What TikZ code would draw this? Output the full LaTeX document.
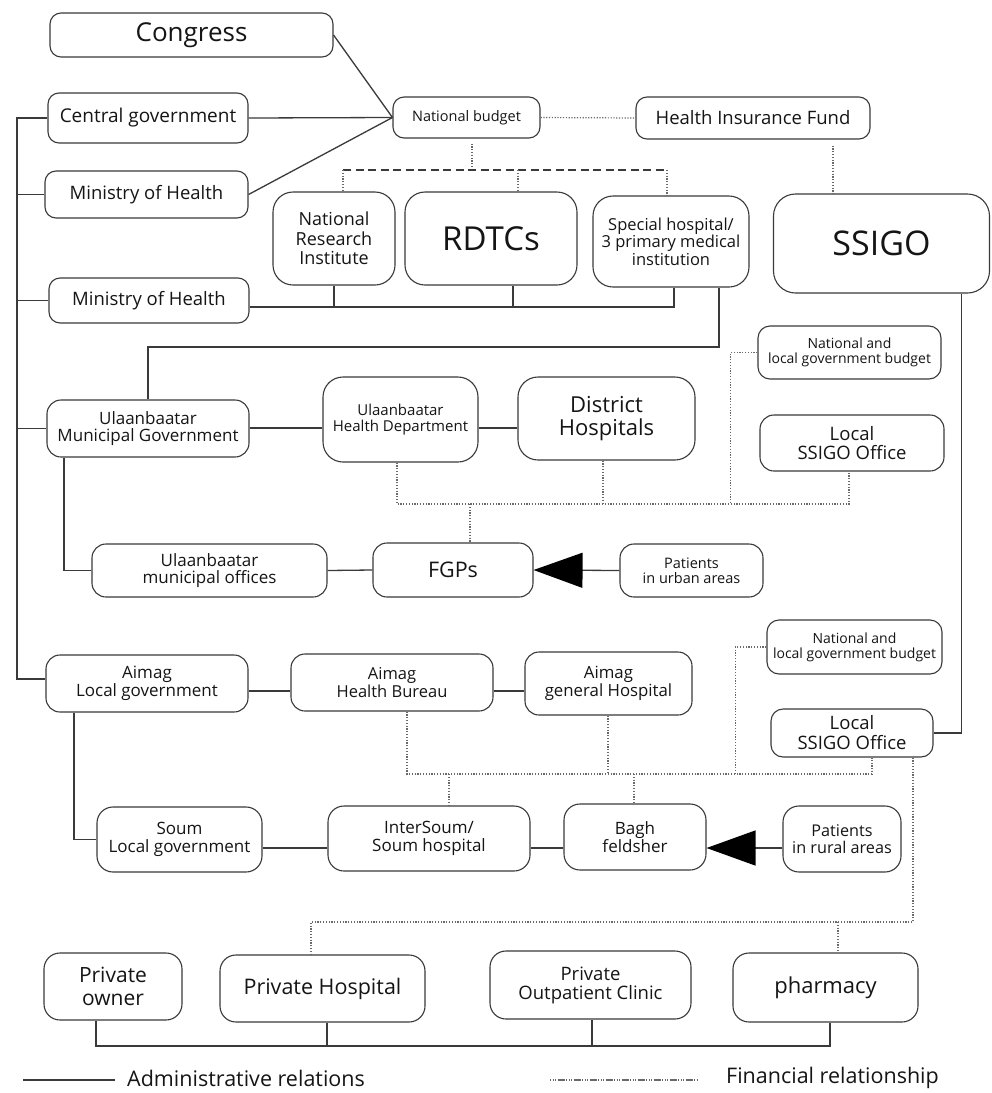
\documentclass[tikz,border=0pt]{standalone}
\usepackage{fontspec}
\setmainfont{Open Sans}
\usetikzlibrary{arrows.meta,calc}
\definecolor{bordc}{HTML}{3A3A3A}
\definecolor{admc}{HTML}{3A3A3A}
\definecolor{finc}{HTML}{6A6A6A}
\definecolor{txtc}{HTML}{151515}
\newcommand\fs[2]{\fontsize{#1}{#2}\selectfont}
\begin{document}
\begin{tikzpicture}[x=1pt,y=-1pt,
 box/.style={draw=bordc,line width=1.1pt,rounded corners=11pt,inner sep=0pt,align=center,text=txtc},
 adm/.style={draw=admc,line width=1.3pt},
 fin/.style={draw=finc,line width=1.2pt,dash pattern=on 1.2pt off 1.6pt},
 dsh/.style={draw=bordc,line width=1.6pt,dash pattern=on 8pt off 4.5pt},
 tri/.style={adm,-{Triangle[length=49pt,width=35pt,color=black,fill=black]}},
 legtext/.style={anchor=west,text=txtc,font=\fs{21.5}{26},inner sep=0pt}
]
\useasboundingbox (0,0) rectangle (992,1093);
\fill[white] (0,0) rectangle (992,1093);

% ---------- top level ----------
\node[box, minimum width=283pt, minimum height=44pt, font=\fs{26}{30}] (cong) at (191.5,35) {Congress};
\node[box, minimum width=200pt, minimum height=50pt, font=\fs{19}{22}] (cgov) at (148,118) {Central government};
\node[box, minimum width=203pt, minimum height=47pt, font=\fs{18.5}{22}] (moh1) at (146.5,194.5) {Ministry of Health};
\node[box, minimum width=200pt, minimum height=45pt, font=\fs{18.5}{22}] (moh2) at (149,300.5) {Ministry of Health};
\node[box, minimum width=147pt, minimum height=41pt, font=\fs{14.5}{17}] (nb) at (466.5,117.5) {National budget};
\node[box, minimum width=234pt, minimum height=42pt, font=\fs{18.5}{22}] (hif) at (753,118) {Health Insurance Fund};
\node[box, rounded corners=20pt, minimum width=122pt, minimum height=93pt, font=\fs{18}{19.5}] (nri) at (334,238.5) {National\\Research\\Institute};
\node[box, rounded corners=20pt, minimum width=172pt, minimum height=93pt, font=\fs{33}{36}] (rdtc) at (491,238.5) {RDTCs};
\node[box, rounded corners=20pt, minimum width=156pt, minimum height=91pt, font=\fs{16.5}{17.5}] (spec) at (671,241.5) {Special hospital/\\3 primary medical\\institution};
\node[box, rounded corners=22pt, minimum width=216pt, minimum height=99pt, font=\fs{34}{38}] (ssigo) at (881.5,243.5) {SSIGO};

% ---------- Ulaanbaatar ----------
\node[box, rounded corners=14pt, minimum width=202pt, minimum height=57pt, font=\fs{17}{17.5}] (ubmg) at (148,428.5) {Ulaanbaatar\\Municipal Government};
\node[box, rounded corners=20pt, minimum width=155pt, minimum height=85pt, font=\fs{15}{16}] (ubhd) at (400.5,419.5) {Ulaanbaatar\\Health Department};
\node[box, rounded corners=20pt, minimum width=177pt, minimum height=83pt, font=\fs{22}{23}] (dh) at (606.5,418.5) {District\\Hospitals};
\node[box, rounded corners=12pt, minimum width=183pt, minimum height=53pt, font=\fs{14}{15}] (nlb1) at (849.5,352.5) {National and\\local government budget};
\node[box, rounded corners=14pt, minimum width=184pt, minimum height=56pt, font=\fs{18.5}{19}] (lso1) at (852,443) {Local\\SSIGO Office};
\node[box, rounded corners=14pt, minimum width=235pt, minimum height=53pt, font=\fs{17}{17.5}] (ubmo) at (209.5,570.5) {Ulaanbaatar\\municipal offices};
\node[box, rounded corners=14pt, minimum width=160pt, minimum height=54pt, font=\fs{21.5}{24}] (fgp) at (453,570) {FGPs};
\node[box, rounded corners=14pt, minimum width=143pt, minimum height=53pt, font=\fs{14.5}{15}] (pu) at (691.5,570.5) {Patients\\in urban areas};

% ---------- Aimag ----------
\node[box, rounded corners=14pt, minimum width=202pt, minimum height=57pt, font=\fs{17}{17.5}] (alg) at (147,683.5) {Aimag\\Local government};
\node[box, rounded corners=14pt, minimum width=202pt, minimum height=57pt, font=\fs{16.5}{17.5}] (ahb) at (392,682.5) {Aimag\\Health Bureau};
\node[box, rounded corners=14pt, minimum width=167pt, minimum height=63pt, font=\fs{16.8}{17.5}] (agh) at (608.5,683.5) {Aimag\\general Hospital};
\node[box, rounded corners=12pt, minimum width=175pt, minimum height=54pt, font=\fs{14}{15}] (nlb2) at (854.5,647) {National and\\local government budget};
\node[box, rounded corners=12pt, minimum width=162pt, minimum height=48pt, font=\fs{18.5}{20}] (lso2) at (852,733) {Local\\SSIGO Office};
\node[box, rounded corners=16pt, minimum width=165pt, minimum height=65pt, font=\fs{17}{17.5}] (slg) at (179.5,839.5) {Soum\\Local government};
\node[box, rounded corners=16pt, minimum width=202pt, minimum height=65pt, font=\fs{17}{17.5}] (isou) at (429,838.5) {InterSoum/\\Soum hospital};
\node[box, rounded corners=16pt, minimum width=142pt, minimum height=66pt, font=\fs{17}{17.5}] (bagh) at (635,837) {Bagh\\feldsher};
\node[box, rounded corners=16pt, minimum width=118pt, minimum height=66pt, font=\fs{16.2}{17.5}] (pr) at (842,839) {Patients\\in rural areas};

% ---------- private ----------
\node[box, rounded corners=16pt, minimum width=138pt, minimum height=67pt, font=\fs{21}{23}] (po) at (113,986.5) {Private\\owner};
\node[box, rounded corners=16pt, minimum width=205pt, minimum height=67pt, font=\fs{21.5}{23}] (ph) at (322.5,988.5) {Private Hospital};
\node[box, rounded corners=16pt, minimum width=201pt, minimum height=68pt, font=\fs{18.5}{19}] (poc) at (590.5,985) {Private\\Outpatient Clinic};
\node[box, rounded corners=16pt, minimum width=185pt, minimum height=69pt, font=\fs{22}{24}] (phar) at (825.5,987.5) {pharmacy};

% ---------- administrative relations ----------
\coordinate (lbT) at (17,118);
\coordinate (lbB) at (17,679);
\draw[adm] (cgov.west) -- (lbT) -- (lbB) -- (lbB -| alg.west);
\draw[adm] (lbT |- moh1.west) -- (moh1.west);
\draw[adm] (lbT |- moh2.west) -- (moh2.west);
\draw[adm] (lbT |- ubmg.west) -- (ubmg.west);

\draw[adm] (cong.east) -- (nb.west);
\draw[adm] (cgov.east) -- (nb.west);
\draw[adm] (moh1.east) -- (nb.west);

\coordinate (b2) at (0,307);
\coordinate (sp1) at ([xshift=3pt]spec.south);
\coordinate (rd1) at ([xshift=22pt]rdtc.south);
\draw[adm] (moh2.east |- b2) -- (sp1 |- b2) -- (sp1);
\draw[adm] (nri.south) -- (nri.south |- b2);
\draw[adm] (rd1) -- (rd1 |- b2);

\coordinate (sp2) at ([xshift=48pt]spec.south);
\coordinate (c347) at (0,347);
\draw[adm] (sp2) -- (sp2 |- c347) -- (ubmg.north |- c347) -- (ubmg.north);

\coordinate (c428) at (0,428);
\draw[adm] (ubmg.east |- c428) -- (ubhd.west |- c428);
\draw[adm] (ubhd.east |- c428) -- (dh.west |- c428);
\coordinate (um1) at ([xshift=-84pt]ubmg.south);
\draw[adm] (um1) |- (ubmo.west);
\draw[adm] (ubmo.east) -- (fgp.west);
\draw[tri] (pu.west) -- (fgp.east);

\coordinate (c691) at (0,691);
\draw[adm] (alg.east |- c691) -- (ahb.west |- c691);
\draw[adm] (ahb.east |- c691) -- (agh.west |- c691);
\coordinate (al1) at ([xshift=-73pt]alg.south);
\draw[adm] (al1) |- (slg.west);
\coordinate (c848) at (0,848);
\draw[adm] (slg.east |- c848) -- (isou.west |- c848);
\draw[adm] (isou.east |- c848) -- (bagh.west |- c848);
\draw[tri] (pr.west |- c848) -- (bagh.east |- c848);

\coordinate (ss1) at ([xshift=80pt]ssigo.south);
\draw[adm] (ss1) |- (lso2.east);

\coordinate (c1046) at (0,1046);
\coordinate (po1) at ([xshift=-17pt]po.south);
\coordinate (ph1) at ([xshift=4.5pt]ph.south);
\coordinate (poc1) at ([xshift=1.5pt]poc.south);
\coordinate (phr1) at ([xshift=4.5pt]phar.south);
\draw[adm] (po1) |- (phr1 |- c1046) -- (phr1);
\draw[adm] (ph1) -- (ph1 |- c1046);
\draw[adm] (poc1) -- (poc1 |- c1046);

% ---------- financial relationships ----------
\draw[fin] (nb.east) -- (hif.west);
\coordinate (nb1) at ([xshift=5.5pt,yshift=-5pt]nb.south);
\coordinate (c170) at (0,170);
\draw[fin] (nb1) -- (nb1 |- c170);
\coordinate (n1) at ([xshift=9pt]nri.north);
\coordinate (r1) at ([xshift=27pt]rdtc.north);
\coordinate (s1) at ([xshift=-4pt]spec.north);
\draw[dsh] (n1 |- c170) -- (s1 |- c170);
\draw[fin] (n1 |- c170) -- (n1);
\draw[fin] (r1 |- c170) -- (r1);
\draw[fin] (s1 |- c170) -- (s1);
\coordinate (h1) at ([xshift=80pt,yshift=-6pt]hif.south);
\draw[fin] (h1) -- (h1 |- ssigo.north);

\coordinate (c504) at (0,504);
\coordinate (u1) at ([xshift=-3.5pt]ubhd.south);
\coordinate (u2) at ([xshift=-3.5pt]dh.south);
\coordinate (u3) at ([xshift=-3pt]lso1.south);
\coordinate (u4) at ([xshift=-27pt]nlb1.west);
\coordinate (u5) at ([xshift=17pt]fgp.north);
\draw[fin] (u1) -- (u1 |- c504) -- (u3 |- c504) -- (u3);
\draw[fin] (u2) -- (u2 |- c504);
\draw[fin] (nlb1.west) -- (u4) -- (u4 |- c504);
\draw[fin] (u5 |- c504) -- (u5);

\coordinate (c774) at (0,774);
\coordinate (q1) at ([xshift=15pt]ahb.south);
\coordinate (q2) at ([xshift=-0.5pt]agh.south);
\coordinate (q3) at ([xshift=20pt]lso2.south);
\coordinate (q4) at ([xshift=-31pt]nlb2.west);
\coordinate (q5) at ([xshift=20pt]isou.north);
\coordinate (q6) at ([xshift=-1pt]bagh.north);
\draw[fin] (q1) -- (q1 |- c774) -- (q3 |- c774) -- (q3);
\draw[fin] (q2) -- (q2 |- c774);
\draw[fin] (nlb2.west) -- (q4) -- (q4 |- c774);
\draw[fin] (q5 |- c774) -- (q5);
\draw[fin] (q6 |- c774) -- (q6);

\coordinate (c922) at (0,922);
\coordinate (p1) at ([xshift=61pt]lso2.south);
\coordinate (p2) at ([xshift=-11.5pt]ph.north);
\coordinate (p3) at ([xshift=12.5pt]phar.north);
\draw[fin] (p1) -- (p1 |- c922) -- (p2 |- c922) -- (p2);
\draw[fin] (p3 |- c922) -- (p3);

% ---------- legend ----------
\coordinate (la) at (23,1080);
\coordinate (lb) at (115,1080);
\draw[adm] (la) -- (lb);
\node[legtext] (lt1) at (127,1078) {Administrative relations};
\coordinate (fa) at (550,1080);
\coordinate (fb) at (698,1080);
\draw[draw=finc,line width=1.2pt,dash pattern=on 1pt off 1.5pt on 1pt off 1.5pt on 1pt off 1.5pt on 7pt off 1.5pt] (fa) -- (fb);
\node[legtext] (lt2) at (726,1078) {Financial relationship};
\end{tikzpicture}
\end{document}
